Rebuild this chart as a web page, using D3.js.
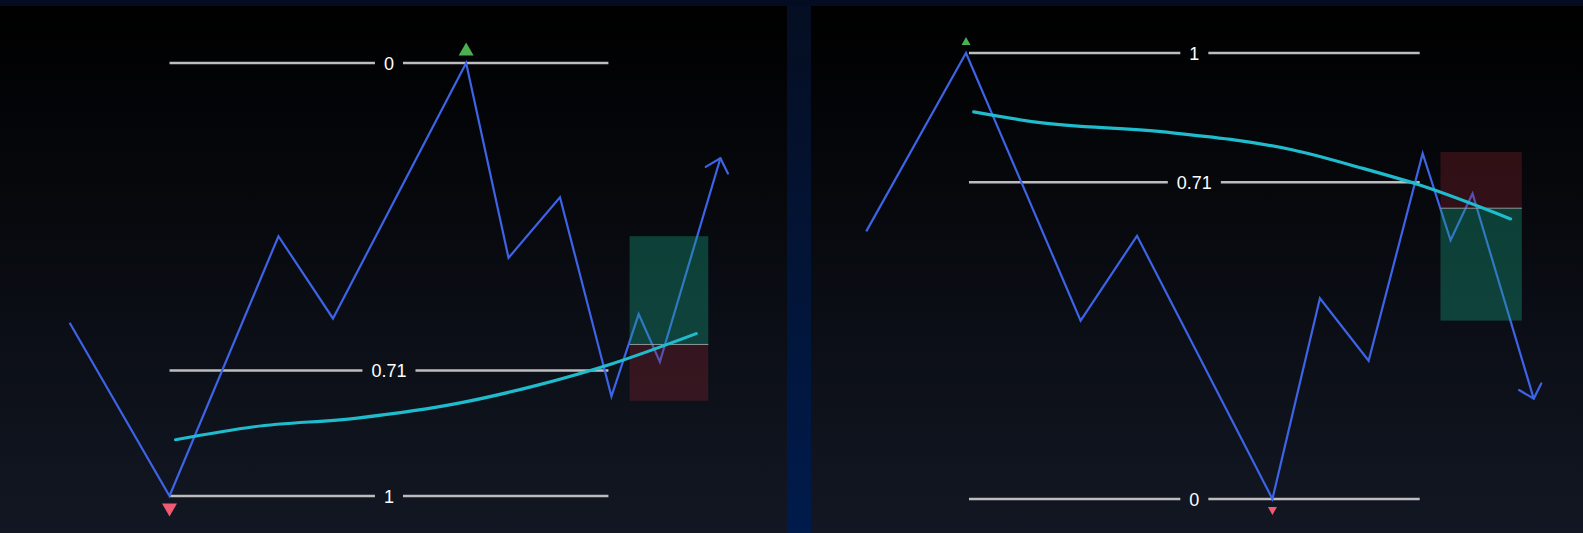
<!DOCTYPE html>
<html>
<head>
<meta charset="utf-8">
<script src="https://cdn.jsdelivr.net/npm/d3@7"></script>
<style>
  html, body { margin: 0; padding: 0; background: #030c20; }
  svg { display: block; }
</style>
</head>
<body>
<svg id="chart" width="1583" height="533"></svg>
<script>
// left panel: bullish retracement (1 = low, 0 = high)
const barsLeft = [11.5, 28, 46, 55, 77, 84, 92.5, 101, 105.5, 109, 119];
const pricesLeft = [0.40, 0, 0.60, 0.41, 1, 0.55, 0.69, 0.23, 0.42, 0.31, 0.78];
const emaBarsLeft = [29, 42, 59, 76, 88.5, 101, 115];
const emaLeft = [0.13, 0.16, 0.18, 0.215, 0.255, 0.305, 0.375];
const fibLabelsLeft = ["0", "0.71", "1"];
const fibPricesLeft = [1, 0.29, 0];
const fibSpanLeft = [28, 100.5];
const zoneBarsLeft = [104, 117];
const zonePricesLeft = [0.60, 0.35, 0.22]; // target, entry, stop

// right panel: bearish retracement (1 = high, 0 = low)
const barsRight = [9.3, 26.1, 45.4, 54.9, 77.7, 85.7, 93.9, 103, 107.7, 111.4, 121.7];
const pricesRight = [0.60, 1, 0.40, 0.59, 0, 0.45, 0.31, 0.775, 0.58, 0.685, 0.225];
const emaBarsRight = [27.4, 37.9, 59.4, 81, 92.2, 102.5, 117.8];
const emaRight = [0.868, 0.845, 0.823, 0.783, 0.744, 0.704, 0.628];
const fibLabelsRight = ["1", "0.71", "0"];
const fibPricesRight = [1, 0.71, 0];
const fibSpanRight = [26.6, 102.5];
const zoneBarsRight = [106, 119.7];
const zonePricesRight = [0.40, 0.652, 0.778];

const svg = d3.select("#chart");
const defs = svg.append("defs");

function vGrad(id, top, bottom) {
    let g = defs.append("linearGradient").attr("id", id)
        .attr("x1", 0).attr("y1", 0).attr("x2", 0).attr("y2", 1);
    g.append("stop").attr("offset", "0%").attr("stop-color", top);
    g.append("stop").attr("offset", "100%").attr("stop-color", bottom);
}
vGrad("panelBg", "#000000", "#121723");
vGrad("dividerBg", "#050e22", "#001b4c");

svg.append("rect").attr("width", 1583).attr("height", 533).attr("fill", "#030c20");
svg.append("rect").attr("x", 787).attr("y", 6).attr("width", 24).attr("height", 527)
    .attr("fill", "url(#dividerBg)");

function triangle(cx, cy, w, h, up) {
    let p = d3.path();
    if (up) {
        p.moveTo(cx, cy - h / 2); p.lineTo(cx + w / 2, cy + h / 2); p.lineTo(cx - w / 2, cy + h / 2);
    } else {
        p.moveTo(cx, cy + h / 2); p.lineTo(cx + w / 2, cy - h / 2); p.lineTo(cx - w / 2, cy - h / 2);
    }
    p.closePath();
    return p.toString();
}

function drawPanel(cfg) {
    const g = svg.append("g");
    g.append("rect").attr("x", cfg.x0).attr("y", 6)
        .attr("width", cfg.x1 - cfg.x0).attr("height", 527)
        .attr("fill", "url(#panelBg)");

    const x = d3.scaleLinear().domain([0, 130]).range([cfg.x0, cfg.x1]);
    const y = d3.scaleLinear().domain([0, 1]).range(cfg.yRange);

    // fib levels with label gap
    cfg.fibLabels.forEach((lab, i) => {
        let yy = y(cfg.fibPrices[i]);
        let xa = x(cfg.fibSpan[0]), xb = x(cfg.fibSpan[1]);
        let cx = (xa + xb) / 2;
        let t = g.append("text").attr("x", cx).attr("y", yy + 6.5)
            .attr("text-anchor", "middle").attr("fill", "#ffffff")
            .attr("font-family", "Liberation Sans, Arial, sans-serif")
            .attr("font-size", 18).text(lab);
        let half = t.node().getComputedTextLength() / 2 + 9;
        [[xa, cx - half], [cx + half, xb]].forEach(s => {
            g.append("line").attr("x1", s[0]).attr("x2", s[1])
                .attr("y1", yy).attr("y2", yy)
                .attr("stroke", "#bdbdbd").attr("stroke-width", 2.5);
        });
    });

    // zigzag price path
    const pts = cfg.bars.map((b, i) => [x(b), y(cfg.prices[i])]);
    g.append("path").attr("d", d3.line()(pts))
        .attr("fill", "none").attr("stroke", "#3d63e6")
        .attr("stroke-width", 2.2).attr("stroke-linejoin", "miter");

    // arrow head at the end
    let tip = pts[pts.length - 1], prev = pts[pts.length - 2];
    let back = Math.atan2(prev[1] - tip[1], prev[0] - tip[0]);
    [-1, 1].forEach(s => {
        let a = back + s * 43 * Math.PI / 180;
        g.append("line").attr("x1", tip[0]).attr("y1", tip[1])
            .attr("x2", tip[0] + 17 * Math.cos(a)).attr("y2", tip[1] + 17 * Math.sin(a))
            .attr("stroke", "#3d63e6").attr("stroke-width", 2.2).attr("stroke-linecap", "round");
    });

    // trade zone
    let zx = x(cfg.zoneBars[0]), zw = x(cfg.zoneBars[1]) - zx;
    let [tp, en, sl] = cfg.zonePrices.map(y);
    g.append("rect").attr("x", zx).attr("width", zw)
        .attr("y", Math.min(tp, en)).attr("height", Math.abs(en - tp))
        .attr("fill", "rgb(22,160,128)").attr("fill-opacity", 0.36);
    g.append("rect").attr("x", zx).attr("width", zw)
        .attr("y", Math.min(sl, en)).attr("height", Math.abs(en - sl))
        .attr("fill", "rgb(150,35,50)").attr("fill-opacity", 0.3);
    g.append("line").attr("x1", zx).attr("x2", zx + zw).attr("y1", en).attr("y2", en)
        .attr("stroke", "#8c9a9a").attr("stroke-width", 1);

    // moving average
    const ema = cfg.emaBars.map((b, i) => [x(b), y(cfg.ema[i])]);
    g.append("path").attr("d", d3.line().curve(d3.curveMonotoneX)(ema))
        .attr("fill", "none").attr("stroke", "#1fbccd")
        .attr("stroke-width", 3.2).attr("stroke-linecap", "round");

    // swing markers
    let hi = cfg.prices.indexOf(1), lo = cfg.prices.indexOf(0);
    g.append("path")
        .attr("d", triangle(x(cfg.bars[hi]), y(1) - cfg.markGap, cfg.markW, cfg.markH, true))
        .attr("fill", "#4caf50");
    g.append("path")
        .attr("d", triangle(x(cfg.bars[lo]), y(0) + cfg.markGap, cfg.markW, cfg.markH, false))
        .attr("fill", "#f05a72");
}

drawPanel({
    x0: 0, x1: 787, yRange: [496, 63],
    bars: barsLeft, prices: pricesLeft, emaBars: emaBarsLeft, ema: emaLeft,
    fibLabels: fibLabelsLeft, fibPrices: fibPricesLeft, fibSpan: fibSpanLeft,
    zoneBars: zoneBarsLeft, zonePrices: zonePricesLeft,
    markW: 15, markH: 13, markGap: 14
});
drawPanel({
    x0: 811, x1: 1583, yRange: [499, 53],
    bars: barsRight, prices: pricesRight, emaBars: emaBarsRight, ema: emaRight,
    fibLabels: fibLabelsRight, fibPrices: fibPricesRight, fibSpan: fibSpanRight,
    zoneBars: zoneBarsRight, zonePrices: zonePricesRight,
    markW: 9, markH: 8, markGap: 12
});
</script>
</body>
</html>
